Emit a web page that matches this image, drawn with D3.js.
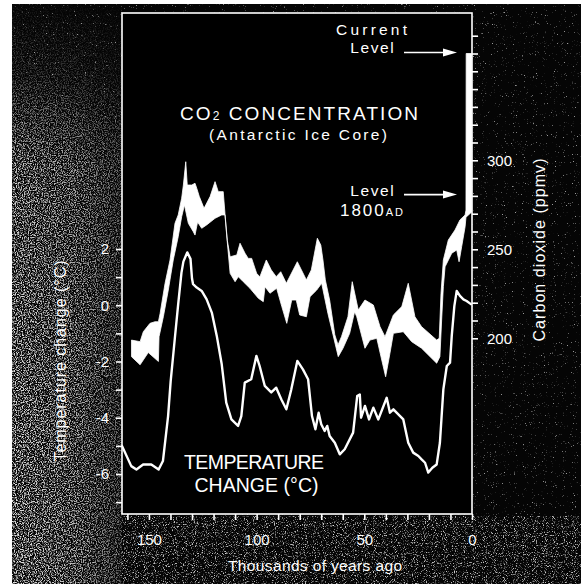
<!DOCTYPE html>
<html>
<head>
<meta charset="utf-8">
<script src="https://cdn.jsdelivr.net/npm/d3@7"></script>
<style>
  html, body { margin: 0; padding: 0; background: #ffffff; }
  svg { display: block; }
  text { font-family: "Liberation Sans", "DejaVu Sans", sans-serif; fill: #ffffff; }
</style>
</head>
<body>
<svg id="chart" width="581" height="584"></svg>
<script>
// ---------------- DATA ----------------
// Temperature change (°C) vs thousands of years ago
const temperaturePoints = [
  [162.5,-5.00],[158.2,-5.72],[155.8,-5.84],[152.7,-5.66],[148.9,-5.66],[145.5,-5.84],
  [143.5,-5.54],[141.1,-3.94],[139.9,-2.70],[138.0,-1.20],[136.4,0.05],[134.9,1.15],
  [134.0,1.55],[132.2,1.88],[130.7,1.65],[130.0,0.95],[129.5,0.75],[127.8,0.63],
  [125.5,0.51],[123.2,0.21],[120.8,-0.26],[118.5,-1.09],[116.2,-2.10],[114.1,-3.46],
  [111.7,-4.06],[108.6,-4.29],[107.1,-3.94],[105.5,-2.75],[102.5,-2.63],[100.1,-1.80],
  [98.6,-2.16],[96.2,-2.87],[93.2,-3.10],[90.9,-2.93],[88.5,-3.35],[86.2,-3.70],
  [83.9,-2.99],[81.1,-1.98],[78.5,-2.28],[76.1,-2.63],[74.3,-3.94],[72.7,-4.41],
  [71.2,-3.82],[70.0,-4.23],[68.4,-4.47],[67.2,-4.29],[66.1,-4.65],[63.7,-4.89],
  [61.4,-5.30],[59.1,-5.12],[55.2,-4.53],[53.3,-3.23],[52.1,-3.17],[51.5,-4.00],
  [49.7,-3.58],[47.8,-4.06],[45.8,-3.64],[43.5,-4.06],[39.6,-3.29],[38.1,-3.82],
  [36.5,-3.70],[34.2,-3.88],[31.9,-4.06],[29.6,-4.89],[27.3,-5.24],[24.9,-5.36],
  [23.4,-5.48],[21.8,-5.60],[20.3,-5.95],[18.4,-5.78],[16.4,-5.66],[14.9,-4.89],
  [13.3,-2.99],[11.7,-2.16],[10.2,-2.04],[9.4,-1.09],[8.2,-0.03],[7.1,0.51],
  [5.6,0.33],[4.0,0.21],[2.5,0.15],[0.5,0.04]
];

// CO2 (ppmv) band: upper edge
const co2Upper = [
  [158.1,199.0],[154.1,198.1],[152.6,203.7],[149.5,208.4],[147.2,209.3],[145.6,209.3],
  [144.8,214.0],[142.5,230.9],[140.2,244.0],[137.9,264.6],[136.4,269.3],[134.8,278.7],
  [134.0,286.1],[132.9,299.2],[132.2,286.1],[130.1,286.1],[128.6,287.1],[127.8,284.3],
  [126.6,279.6],[124.4,273.0],[121.6,279.6],[119.3,288.0],[117.8,282.4],[115.5,282.4],
  [114.7,270.2],[113.6,255.0],[112.3,245.8],[109.2,246.8],[107.7,253.4],[105.4,247.8],
  [103.9,244.9],[102.3,244.9],[100.0,236.5],[98.5,234.5],[95.5,244.0],[93.2,238.4],
  [90.9,234.6],[88.8,237.4],[86.2,230.9],[81.1,243.0],[79.2,238.4],[76.9,232.8],
  [74.6,238.4],[71.8,256.2],[70.2,252.4],[69.2,244.0],[68.1,232.8],[66.1,221.5],
  [63.7,202.0],[62.2,196.3],[60.6,200.9],[57.6,212.1],[55.6,231.8],[52.8,215.9],
  [49.7,221.5],[45.8,218.7],[42.7,206.5],[40.4,200.9],[36.5,213.1],[32.6,217.8],
  [29.6,230.9],[26.5,212.1],[23.4,206.5],[16.4,199.0],[15.2,200.0],[14.4,225.0],
  [13.3,244.0],[11.0,255.2],[7.9,260.8],[5.6,266.5],[3.2,269.3],[2.8,272.0],
  [2.7,360.0],[0.1,360.0]
];

// CO2 (ppmv) band: lower edge
const co2Lower = [
  [158.1,189.7],[154.1,185.1],[150.3,192.0],[145.6,187.0],[145.3,200.9],[143.3,212.1],
  [141.0,227.1],[138.7,244.0],[136.4,257.1],[134.8,268.3],[133.5,274.9],[131.7,264.6],
  [129.4,259.9],[128.6,258.0],[127.4,265.3],[125.5,261.8],[123.2,263.7],[119.3,267.4],
  [116.2,269.3],[114.7,269.3],[113.7,255.2],[112.3,236.5],[110.0,231.8],[108.5,234.6],
  [106.2,231.8],[103.1,228.1],[99.2,222.5],[96.9,220.6],[96.1,229.0],[93.8,225.3],
  [90.7,228.1],[88.3,217.8],[86.0,208.4],[83.7,221.5],[81.6,221.5],[80.0,213.1],
  [76.9,212.1],[75.2,223.4],[72.1,227.1],[69.8,230.9],[66.9,214.0],[64.5,201.9],
  [62.1,189.7],[59.9,194.4],[56.8,202.8],[54.5,214.9],[53.5,212.1],[49.7,194.4],
  [47.4,199.0],[44.2,200.0],[41.9,187.8],[40.1,178.4],[38.1,191.6],[36.5,202.8],
  [31.9,203.7],[28.0,198.1],[23.4,194.4],[16.4,186.0],[14.9,189.7],[14.1,210.3],
  [13.3,229.0],[12.5,240.2],[9.4,247.8],[7.1,249.6],[6.0,243.0],[4.8,251.5],
  [3.2,262.7],[2.8,268.0],[0.1,271.0]
];

// Reference levels marked by arrows (ppmv)
const co2CurrentLevel = 360;
const co2Level1800 = 281;

// Ticks & labels
const xTicks = d3.range(0, 161, 10);
const xTickLabels = [150, 100, 50, 0];
const tempTicks = d3.range(-7, 3, 1);
const tempTickLabels = [2, 0, -2, -4, -6];
const co2Ticks = d3.range(200, 371, 10);
const co2TickLabels = [300, 250, 200];

// ---------------- LAYOUT ----------------
const W = 581, H = 584;
const plot = { left: 122, right: 472, top: 13, bottom: 514 };
const FONT = '"Liberation Sans", "DejaVu Sans", sans-serif';

const svg = d3.select("#chart");
const defs = svg.append("defs");

// grain filters (photocopy texture)
function grainFilter(id, seed, freq, slope, offset) {
  const f = defs.append("filter").attr("id", id)
    .attr("x", 0).attr("y", 0).attr("width", 1).attr("height", 1);
  f.append("feTurbulence").attr("type", "fractalNoise")
    .attr("baseFrequency", freq).attr("numOctaves", 2).attr("seed", seed);
  f.append("feColorMatrix").attr("type", "matrix")
    .attr("values", `0 0 0 0 1  0 0 0 0 1  0 0 0 0 1  ${slope} 0 0 0 ${offset}`);
}
grainFilter("grainHeavy", 4, 0.85, 4.5, -2.0);
grainFilter("grainMid", 9, 0.9, 5, -2.75);
grainFilter("grainSparse", 13, 0.9, 6, -4.1);

function gradient(id, vertical, stops) {
  const g = defs.append("linearGradient").attr("id", id)
    .attr("x1", 0).attr("y1", 0).attr("x2", vertical ? 0 : 1).attr("y2", vertical ? 1 : 0);
  stops.forEach(s => g.append("stop").attr("offset", s[0]).attr("stop-color", "#fff").attr("stop-opacity", s[1]));
}
gradient("topFade", true, [["0%", 0.05], ["12%", 0.25], ["28%", 0.9], ["100%", 1]]);
gradient("leftFade", false, [["0%", 1], ["60%", 0.8], ["100%", 0.45]]);
defs.append("mask").attr("id", "maskV").append("rect")
  .attr("x", 12).attr("y", 4).attr("width", 110).attr("height", H - 4).attr("fill", "url(#topFade)");
defs.append("mask").attr("id", "maskH").append("rect")
  .attr("x", 12).attr("y", 4).attr("width", 110).attr("height", H - 4).attr("fill", "url(#leftFade)");

defs.append("clipPath").attr("id", "plotClip").append("rect")
  .attr("x", plot.left).attr("y", plot.top)
  .attr("width", plot.right - plot.left).attr("height", plot.bottom - plot.top);

// page + dark photo background
svg.append("rect").attr("width", W).attr("height", H).attr("fill", "#ffffff");
svg.append("rect").attr("x", 12).attr("y", 4).attr("width", W - 12).attr("height", H - 4).attr("fill", "#050505");

// grain layers
svg.append("rect").attr("x", 12).attr("y", 4).attr("width", W - 12).attr("height", H - 4)
  .attr("filter", "url(#grainSparse)").attr("opacity", 0.6);
svg.append("g").attr("mask", "url(#maskV)")
  .append("g").attr("mask", "url(#maskH)")
  .append("rect").attr("x", 12).attr("y", 4).attr("width", 110).attr("height", H - 4)
  .attr("filter", "url(#grainHeavy)").attr("opacity", 0.9);
svg.append("rect").attr("x", 122).attr("y", plot.bottom + 2).attr("width", W - 122).attr("height", H - plot.bottom - 2)
  .attr("filter", "url(#grainMid)").attr("opacity", 0.75);

// plot area
svg.append("rect").attr("x", plot.left).attr("y", plot.top)
  .attr("width", plot.right - plot.left).attr("height", plot.bottom - plot.top)
  .attr("fill", "#000000");

// ---------------- SCALES ----------------
const x = d3.scaleLinear().domain([162.5, 0]).range([plot.left, plot.right]);
const yT = d3.scaleLinear().domain([-6, 2]).range([474, 249]);
const yC = d3.scaleLinear().domain([200, 300]).range([338.3, 160.3]);

const gPlot = svg.append("g").attr("clip-path", "url(#plotClip)");

// CO2 band (closed polygon: upper edge then lower edge reversed)
const bandLine = d3.line().x(d => x(d[0])).y(d => yC(d[1]));
const bandPoly = co2Upper.concat(co2Lower.slice().reverse());
gPlot.append("path")
  .attr("d", bandLine(bandPoly) + "Z")
  .attr("fill", "#ffffff").attr("stroke", "#ffffff").attr("stroke-width", 0.8)
  .attr("stroke-linejoin", "round");

// temperature line
const tLine = d3.line().x(d => x(d[0])).y(d => yT(d[1]));
gPlot.append("path")
  .attr("d", tLine(temperaturePoints))
  .attr("fill", "none").attr("stroke", "#ffffff").attr("stroke-width", 2.4)
  .attr("stroke-linejoin", "round").attr("stroke-linecap", "round");

// frame
svg.append("rect").attr("x", plot.left).attr("y", plot.top)
  .attr("width", plot.right - plot.left).attr("height", plot.bottom - plot.top)
  .attr("fill", "none").attr("stroke", "#ffffff").attr("stroke-width", 1.6);

// ---------------- AXES ----------------
function styleAxis(g) {
  g.select(".domain").remove();
  g.selectAll(".tick line").attr("stroke", "#ffffff").attr("stroke-width", 1.6);
  g.selectAll(".tick text").attr("fill", "#ffffff")
    .style("font-family", FONT).style("font-size", "15px");
}

svg.append("g").attr("transform", `translate(0,${plot.bottom})`)
  .call(d3.axisBottom(x).tickValues(xTicks).tickSize(6).tickPadding(14)
    .tickFormat(d => xTickLabels.includes(d) ? d : ""))
  .call(styleAxis);

svg.append("g").attr("transform", `translate(${plot.left},0)`)
  .call(d3.axisLeft(yT).tickValues(tempTicks).tickSize(6).tickPadding(7)
    .tickFormat(d => tempTickLabels.includes(d) ? String(d) : ""))
  .call(styleAxis);

svg.append("g").attr("transform", `translate(${plot.right},0)`)
  .call(d3.axisRight(yC).tickValues(co2Ticks).tickSize(6).tickPadding(9)
    .tickFormat(d => co2TickLabels.includes(d) ? d : ""))
  .call(styleAxis);

// ---------------- TEXT ----------------
function label(txt, xPos, yPos, size, len) {
  const t = svg.append("text").attr("x", xPos).attr("y", yPos)
    .attr("text-anchor", "middle").style("font-size", size + "px").text(txt);
  if (len) t.attr("textLength", len).attr("lengthAdjust", "spacing");
  return t;
}

// axis titles
label("Thousands of years ago", 315, 571, 15.5, 174);
svg.append("text").attr("transform", "translate(66,361) rotate(-90)")
  .attr("text-anchor", "middle").style("font-size", "16px")
  .attr("textLength", 201).attr("lengthAdjust", "spacing")
  .text("Temperature change (°C)");
svg.append("text").attr("transform", "translate(545,250) rotate(-90)")
  .attr("text-anchor", "middle").style("font-size", "16px")
  .attr("textLength", 183).attr("lengthAdjust", "spacing")
  .text("Carbon dioxide (ppmv)");

// CO2 title
const co2Title = svg.append("text").attr("x", 299).attr("y", 120)
  .attr("text-anchor", "middle").style("font-size", "19px")
  .attr("textLength", 238).attr("lengthAdjust", "spacing");
co2Title.append("tspan").text("CO");
co2Title.append("tspan").style("font-size", "12px").text("2");
co2Title.append("tspan").text("  CONCENTRATION");
label("(Antarctic Ice Core)", 298, 140, 15.5, 178);

// Temperature title
label("TEMPERATURE", 254, 469, 19.5, 140);
label("CHANGE (°C)", 256.5, 491.5, 19.5, 124);

// Current level annotation
label("Current", 371.5, 34.5, 15.5, 71);
label("Level", 372, 53, 15.5, 43.5);
// 1800 AD annotation
label("Level", 372, 196, 15.5, 43.5);
const t1800 = svg.append("text").attr("x", 371.5).attr("y", 216)
  .attr("text-anchor", "middle").style("font-size", "17px")
  .attr("textLength", 63).attr("lengthAdjust", "spacing");
t1800.append("tspan").text("1800");
t1800.append("tspan").style("font-size", "11px").text("AD");

// arrows
function arrow(yPos) {
  svg.append("line").attr("x1", 404).attr("x2", 446).attr("y1", yPos).attr("y2", yPos)
    .attr("stroke", "#ffffff").attr("stroke-width", 1.6);
  svg.append("path")
    .attr("d", `M${443},${yPos - 4} L${457},${yPos} L${443},${yPos + 4} Z`)
    .attr("fill", "#ffffff");
}
arrow(yC(co2CurrentLevel) - 1);
arrow(yC(co2Level1800) + 0.5);
</script>
</body>
</html>
